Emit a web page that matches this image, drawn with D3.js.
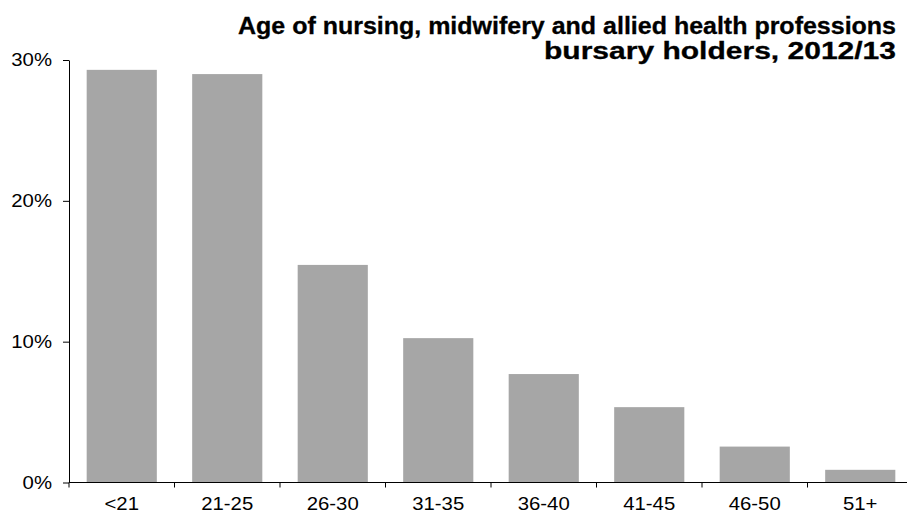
<!DOCTYPE html>
<html><head><meta charset="utf-8">
<script src="https://cdn.jsdelivr.net/npm/d3@7"></script>
<style>html,body{margin:0;padding:0;background:#fff;}svg{display:block;}</style>
</head><body>
<script>
const categories = ["<21","21-25","26-30","31-35","36-40","41-45","46-50","51+"];
const values = [29.3, 29.0, 15.45, 10.25, 7.7, 5.35, 2.55, 0.9];
const yTicks = [0, 10, 20, 30];
const titleLines = ["Age of nursing, midwifery and allied health professions", "bursary holders, 2012/13"];

const W = 907, H = 513;
const svg = d3.select("body").append("svg").attr("width", W).attr("height", H);

const x0 = 69, x1 = 913, yTop = 60, yBot = 482.5;
const x = d3.scaleBand().domain(categories).range([x0, x1]).paddingInner(0.335).paddingOuter(0.1675);
const y = d3.scaleLinear().domain([0, 30]).range([yBot, yTop]);
const FONT = "'Liberation Sans', Arial, sans-serif";

// bars
svg.append("g").selectAll("rect").data(values).join("rect")
  .attr("x", (d,i) => x(categories[i]))
  .attr("width", x.bandwidth())
  .attr("y", d => y(d))
  .attr("height", d => y(0) - y(d))
  .attr("fill", "#a6a6a6");

// y axis
const yAxis = svg.append("g").attr("class", "lab").attr("transform", `translate(${x0},0)`)
  .call(d3.axisLeft(y).tickValues(yTicks).tickFormat(d => d + "%").tickSize(6).tickSizeOuter(0).tickPadding(11));
yAxis.select(".domain").attr("stroke", "#000");
yAxis.selectAll(".tick line").attr("stroke", "#000");
yAxis.selectAll("text").attr("font-family", FONT).attr("font-size", 18).attr("fill", "#000");

// x axis line, boundary ticks, labels
const xa = svg.append("g").attr("class", "lab");
xa.append("line").attr("x1", x0).attr("x2", x1).attr("y1", yBot).attr("y2", yBot).attr("stroke", "#000");
xa.selectAll(".bt").data(d3.range(categories.length + 1)).join("line")
  .attr("x1", i => x0 + i * x.step())
  .attr("x2", i => x0 + i * x.step())
  .attr("y1", yBot).attr("y2", yBot + 5).attr("stroke", "#000");
xa.selectAll(".lbl").data(categories).join("text")
  .attr("x", d => x(d) + x.bandwidth() / 2)
  .attr("y", 510)
  .attr("text-anchor", "middle")
  .attr("font-family", FONT).attr("font-size", 18).attr("fill", "#000")
  .text(d => d);

// stretch tick labels horizontally
svg.selectAll("g.lab text").each(function(){
  const len = this.getComputedTextLength();
  d3.select(this).attr("textLength", len * 1.13).attr("lengthAdjust", "spacingAndGlyphs");
});

// title
const titleW = [658, 352];
svg.append("g").selectAll("text").data(titleLines).join("text")
  .attr("x", 896).attr("y", (d,i) => 34 + i * 25)
  .attr("text-anchor", "end")
  .attr("font-family", FONT).attr("font-weight", "bold").attr("font-size", 23).attr("fill", "#000")
  .attr("stroke", "#000").attr("stroke-width", 0.3)
  .attr("textLength", (d,i) => titleW[i]).attr("lengthAdjust", "spacingAndGlyphs")
  .text(d => d);
</script>
</body></html>
